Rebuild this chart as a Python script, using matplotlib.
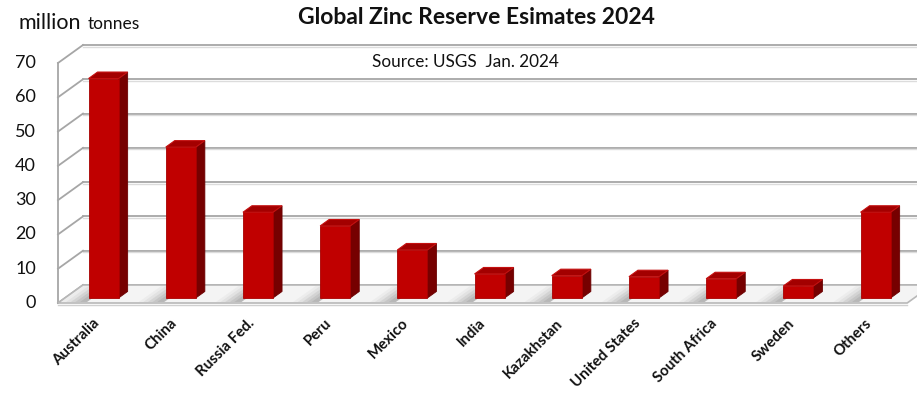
import numpy as np
import matplotlib.pyplot as plt
from matplotlib.patches import Polygon

plt.rcParams['font.family'] = ['Lato', 'DejaVu Sans']

# Data (million tonnes)
countries = ['Australia', 'China', 'Russia Fed.', 'Peru', 'Mexico', 'India',
             'Kazakhstan', 'United States', 'South Africa', 'Sweden', 'Others']
reserves = [64, 44, 25, 21, 14, 7.0, 6.5, 6.2, 5.6, 3.5, 25]
yticks = [0, 10, 20, 30, 40, 50, 60, 70]

# pseudo-3D geometry (category units / value units)
W, H = 917, 393
px_cat = 77.2
px_val = 240 / 70
x0_px, y0_px = 58, 303
DX, DY = 25 / px_cat, 18 / px_val      # full depth of the box
bar_w = 0.39
d_front, d_thick = 0.28, 0.36

fig = plt.figure(figsize=(W / 100, H / 100), dpi=100)
ax = fig.add_axes([0, 0, 1, 1])
ax.set_xlim(-x0_px / px_cat, (W - x0_px) / px_cat)
ax.set_ylim(-(H - y0_px) / px_val, y0_px / px_val)
ax.axis('off')

n = len(countries)
grid_c = '#a6a6a6'
txt_c = '#111111'

# floor
floor = Polygon([(0, 0), (n, 0), (n + DX, DY), (DX, DY)], closed=True,
                facecolor='#f4f4f4', edgecolor='#b8b8b8', lw=1.2, zorder=1)
ax.add_patch(floor)
ax.plot([0, n], [-0.5, -0.5], color='#d0d0d0', lw=1.0, zorder=1)

# gridlines on back wall and side wall
for v in yticks:
    ax.plot([DX, n + DX], [v + DY, v + DY], color=grid_c, lw=1.3, zorder=0)
    ax.plot([DX, n + DX], [v + DY - 0.45, v + DY - 0.45], color='#dcdcdc', lw=1.0, zorder=0)
    ax.plot([0, DX], [v, v + DY], color=grid_c, lw=1.3, zorder=0)
    ax.text(-0.285, v, str(v), ha='right', va='center', fontsize=13, color=txt_c)
ax.plot([0, 0], [0, 70], color=grid_c, lw=1.3, zorder=0)

# bars
for i, (name, h) in enumerate(zip(countries, reserves)):
    xl = i + 0.5 - bar_w / 2 + d_front * DX
    xr = xl + bar_w
    yb = d_front * DY
    ddx, ddy = d_thick * DX, d_thick * DY
    # floor shadow
    for k, a in enumerate([0.14, 0.12, 0.10, 0.07, 0.05]):
        s = 0.06 * (k + 1)
        ax.add_patch(Polygon([(xl - s - 0.05, 0.3), (xl - 0.02, 0.3),
                              (xl - 0.02 + DX * 0.9, DY - 0.3), (xl - s - 0.05 + DX * 0.9, DY - 0.3)],
                             closed=True, facecolor='#606060', alpha=a, lw=0, zorder=2))
    front = Polygon([(xl, yb), (xr, yb), (xr, yb + h), (xl, yb + h)], closed=True,
                    facecolor='#c00000', edgecolor='#a80000', lw=0.6, zorder=4)
    side = Polygon([(xr, yb), (xr + ddx, yb + ddy), (xr + ddx, yb + ddy + h), (xr, yb + h)],
                   closed=True, facecolor='#760000', edgecolor='#6a0000', lw=0.6, zorder=3)
    top = Polygon([(xl, yb + h), (xr, yb + h), (xr + ddx, yb + h + ddy), (xl + ddx, yb + h + ddy)],
                  closed=True, facecolor='#a30000', edgecolor='#c41010', lw=0.8, zorder=5)
    ax.add_patch(side)
    ax.add_patch(front)
    ax.add_patch(top)
    ax.text(i + 0.45, -3.9, name, rotation=45, rotation_mode='anchor', ha='right', va='top',
            fontsize=10.8, fontweight='bold', color=txt_c)

fig.text(476 / W, 1 - 18 / H, 'Global Zinc Reserve Esimates 2024', ha='center', va='center',
         fontsize=16.5, fontweight='bold', color=txt_c)
fig.text(465 / W, 1 - 62 / H, 'Source: USGS  Jan. 2024', ha='center', va='center',
         fontsize=12.3, color=txt_c)
fig.text(18 / W, 1 - 29 / H, 'million', ha='left', va='baseline', fontsize=15.5, color=txt_c)
fig.text(88 / W, 1 - 29 / H, 'tonnes', ha='left', va='baseline', fontsize=12.5, color=txt_c)

fig.savefig('out.png', dpi=100)
